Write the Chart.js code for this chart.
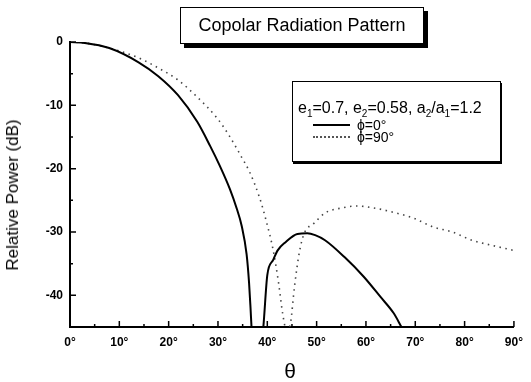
<!DOCTYPE html>
<html>
<head>
<meta charset="utf-8">
<script src="https://cdn.jsdelivr.net/npm/chart.js"></script>
<style>
  body { margin: 0; background: #fff; }
  #wrap { position: relative; width: 531px; height: 382px; font-family: "Liberation Sans", Arial, sans-serif; color: #000; }
  #grafico { position: absolute; left: 0; top: 0; }
  #titulo { position: absolute; left: 180px; top: 7px; width: 242px; height: 35px; border: 1px solid #000; box-shadow: 4px 4px 0 #000; background: #fff; font-size: 18px; line-height: 35px; text-align: center; }
  #leyenda { position: absolute; left: 292px; top: 81px; width: 207px; height: 79px; border: 1px solid #000; box-shadow: 1px 2px 0 #000; background: #fff; font-size: 14px; }
  #leyenda .cab { position: absolute; left: 5px; top: 17px; white-space: nowrap; line-height: 17px; font-size: 16px; }
  #leyenda sub { font-size: 10px; line-height: 0; }
  #leyenda .item { position: absolute; left: 64px; white-space: nowrap; line-height: 14px; }
  #leyenda .muestra { position: absolute; left: 20px; width: 37px; height: 0; }
  #ytitulo { position: absolute; left: 13px; top: 195px; transform: translate(-50%, -50%) rotate(-90deg); font-size: 17px; white-space: nowrap; }
  #xtitulo { position: absolute; left: 290px; top: 371px; transform: translate(-50%, -50%); font-size: 21px; }
</style>
</head>
<body>
<div id="wrap">
  <canvas id="grafico" width="531" height="382"></canvas>
  <div id="titulo">Copolar Radiation Pattern</div>
  <div id="leyenda">
    <div class="cab">e<sub>1</sub>=0.7, e<sub>2</sub>=0.58, a<sub>2</sub>/a<sub>1</sub>=1.2</div>
    <div class="muestra" style="top:42px; border-top:2px solid #000;"></div>
    <div class="item" style="top:36px;">ϕ=0°</div>
    <div class="muestra" style="top:54px; border-top:2px dotted #555;"></div>
    <div class="item" style="top:48px;">ϕ=90°</div>
  </div>
  <div id="ytitulo">Relative Power (dB)</div>
  <div id="xtitulo">θ</div>
</div>
<script>
// datos
const thetaSolido = [0, 3, 7.95, 13.9, 17.9, 21.9, 25.8, 28.4, 30.4, 32.4, 33.8, 34.8, 35.8, 36.3, 36.6, 36.8, 37.8, 39.2, 40.0, 41.2, 42.1, 43.7, 46.1, 48.1, 49.7, 51.7, 55.7, 59.6, 63.0, 65.6, 67.2];
const potSolido = [0, -0.15, -0.95, -3.2, -5.4, -8.4, -12.6, -16.4, -19.6, -23.2, -26.3, -29.0, -33.5, -38, -42, -45, -55, -45, -36.8, -34.4, -32.9, -31.6, -30.3, -30.2, -30.5, -31.3, -34.0, -37.1, -40.3, -42.8, -45];
const thetaPunteado = [0, 3, 7.95, 13.9, 17.9, 21.9, 25.8, 29.8, 32.2, 34.8, 36.4, 38.4, 39.8, 41.2, 42.3, 43.1, 43.9, 44.7, 45.5, 46.5, 47.5, 49.5, 51.7, 55.1, 58.1, 61.6, 65.6, 69.6, 73.6, 77.5, 81.5, 85.5, 89.9];
const potPunteado = [0, -0.15, -0.95, -2.5, -4.1, -6.0, -8.7, -12.0, -14.7, -18.2, -20.5, -24.5, -28.3, -32.9, -38.1, -42.8, -45.5, -44.4, -38.7, -33.2, -30.2, -28.6, -27.0, -26.2, -25.9, -26.2, -26.9, -27.8, -29.2, -30.0, -31.3, -32.1, -32.9];
const xTicks = [0, 10, 20, 30, 40, 50, 60, 70, 80, 90];
const xMenores = [5, 15, 25, 35, 45, 55, 65, 75, 85];
const yTicks = [-40, -30, -20, -10, 0];
const yMenores = [-35, -25, -15, -5];

const puntos = (xs, ys) => xs.map((v, i) => ({ x: v, y: ys[i] }));

const ticksInternos = {
  id: "ticksInternos",
  afterDatasetsDraw(chart) {
    const { ctx, scales: { x, y }, chartArea } = chart;
    ctx.save();
    ctx.strokeStyle = "#000";
    ctx.lineWidth = 1.5;
    ctx.beginPath();
    xTicks.slice(1).forEach((v) => {
      const px = x.getPixelForValue(v);
      ctx.moveTo(px, chartArea.bottom);
      ctx.lineTo(px, chartArea.bottom - 6);
    });
    xMenores.forEach((v) => {
      const px = x.getPixelForValue(v);
      ctx.moveTo(px, chartArea.bottom);
      ctx.lineTo(px, chartArea.bottom - 3);
    });
    yTicks.forEach((v) => {
      const py = y.getPixelForValue(v);
      ctx.moveTo(chartArea.left, py);
      ctx.lineTo(chartArea.left + 6, py);
    });
    yMenores.forEach((v) => {
      const py = y.getPixelForValue(v);
      ctx.moveTo(chartArea.left, py);
      ctx.lineTo(chartArea.left + 3, py);
    });
    ctx.stroke();
    ctx.restore();
  }
};

const fuente = { family: "'Liberation Sans', Arial, sans-serif", size: 12, weight: "bold" };

new Chart(document.querySelector("#grafico"), {
  type: "line",
  data: {
    datasets: [
      {
        label: "ϕ=0°",
        data: puntos(thetaSolido, potSolido),
        borderColor: "#000",
        borderWidth: 2,
        pointRadius: 0,
        cubicInterpolationMode: "monotone"
      },
      {
        label: "ϕ=90°",
        data: puntos(thetaPunteado, potPunteado),
        borderColor: "#444",
        borderWidth: 1.6,
        borderDash: [1.5, 4.5],
        pointRadius: 0,
        cubicInterpolationMode: "monotone"
      }
    ]
  },
  options: {
    responsive: false,
    animation: false,
    layout: { padding: { left: 0, top: 42, right: 8, bottom: 0 } },
    plugins: { legend: { display: false }, tooltip: { enabled: false } },
    scales: {
      x: {
        type: "linear",
        min: 0,
        max: 90,
        afterBuildTicks: (scale) => { scale.ticks = xTicks.map((v) => ({ value: v })); },
        afterFit: (scale) => { scale.height = 55; },
        ticks: { color: "#000", font: fuente, padding: 8, maxRotation: 0, autoSkip: false, callback: (v) => v + "°" },
        grid: { display: false, drawTicks: false },
        border: { display: true, color: "#000", width: 2 }
      },
      y: {
        type: "linear",
        min: -45,
        max: 0,
        afterBuildTicks: (scale) => { scale.ticks = yTicks.map((v) => ({ value: v })); },
        afterFit: (scale) => { scale.width = 70; },
        ticks: { color: "#000", font: fuente, padding: 7, autoSkip: false },
        grid: { display: false, drawTicks: false },
        border: { display: true, color: "#000", width: 2 }
      }
    }
  },
  plugins: [ticksInternos]
});
</script>
</body>
</html>
